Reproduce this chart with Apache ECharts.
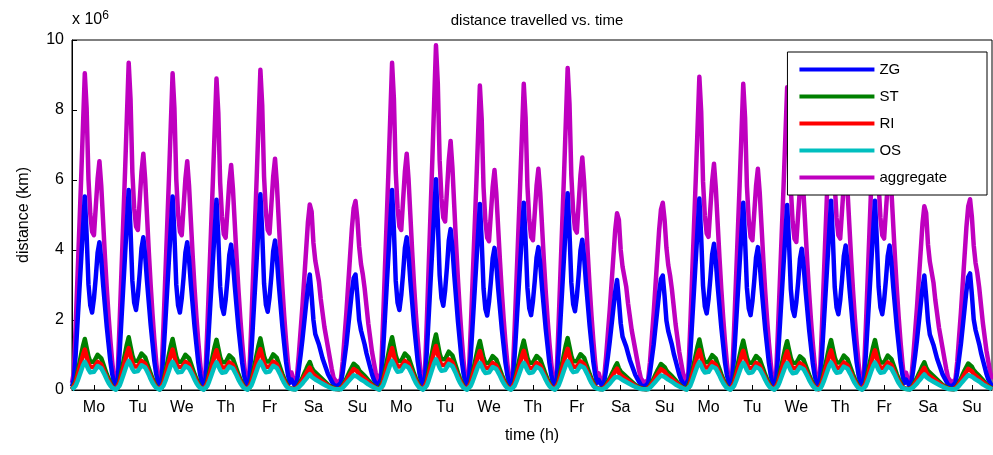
<!DOCTYPE html>
<html><head><meta charset="utf-8">
<script src="https://cdn.jsdelivr.net/npm/echarts@6/dist/echarts.min.js"></script>
<style>html,body{margin:0;background:#fff}#main{width:993px;height:455px}</style>
</head><body><div id="main"></div>
<script>
// hourly day profiles (units of 1e6 km)
var dayNames = ['Mo','Tu','We','Th','Fr','Sa','Su','Mo','Tu','We','Th','Fr','Sa','Su','Mo','Tu','We','Th','Fr','Sa','Su'];
// peak of the aggregate curve for each day
var dayPeaks = [9.2,9.5,9.2,9.05,9.3,5.45,5.55,9.5,10.0,8.85,8.9,9.35,5.2,5.5,9.1,8.9,8.8,9.0,9.0,5.4,5.6];

var aggWd = [0.2,0.5,1.8,3.2,4.6,6.0,7.5,9.0,8.0,6.0,5.0,4.5,4.4,5.2,6.0,6.5,5.8,4.8,3.8,2.9,2.1,1.4,0.8,0.3];
var zgWd  = [0.1,0.3,1.0,1.9,2.8,3.7,4.6,5.5,4.4,3.0,2.4,2.2,2.6,3.2,3.9,4.2,3.7,3.0,2.4,1.8,1.3,0.8,0.45,0.2];
var stWd  = [0.02,0.06,0.25,0.5,0.75,1.0,1.25,1.45,1.2,0.95,0.8,0.75,0.8,0.9,1.0,1.02,0.9,0.75,0.6,0.45,0.32,0.2,0.1,0.04];
var riWd  = [0.02,0.05,0.2,0.4,0.6,0.8,1.0,1.15,0.95,0.75,0.65,0.6,0.65,0.72,0.8,0.82,0.72,0.6,0.48,0.36,0.25,0.16,0.08,0.03];
var osWd  = [0.01,0.03,0.12,0.25,0.4,0.55,0.7,0.8,0.7,0.58,0.5,0.48,0.52,0.6,0.68,0.7,0.62,0.52,0.42,0.3,0.2,0.12,0.06,0.02];

var aggSa = [0.5,0.3,0.2,0.4,1.0,1.7,2.4,3.2,4.0,4.8,5.3,5.1,4.2,3.7,3.4,3.1,2.6,2.2,1.8,1.5,1.2,0.9,0.6,0.35];
var zgSa  = [0.3,0.2,0.1,0.25,0.6,1.0,1.45,1.95,2.45,2.95,3.3,2.7,2.0,1.6,1.45,1.3,1.1,0.9,0.75,0.6,0.45,0.35,0.25,0.15];
var stSa  = [0.05,0.03,0.02,0.05,0.15,0.25,0.35,0.47,0.58,0.7,0.8,0.65,0.55,0.5,0.45,0.4,0.35,0.3,0.25,0.2,0.15,0.11,0.08,0.05];
var riSa  = [0.04,0.02,0.02,0.04,0.12,0.2,0.28,0.38,0.47,0.56,0.64,0.52,0.44,0.4,0.36,0.32,0.28,0.24,0.2,0.16,0.12,0.09,0.06,0.04];
var osSa  = [0.03,0.02,0.01,0.03,0.08,0.13,0.19,0.26,0.32,0.39,0.45,0.38,0.33,0.3,0.27,0.24,0.21,0.18,0.15,0.12,0.09,0.07,0.05,0.03];

var aggSu = [0.35,0.2,0.15,0.3,0.8,1.5,2.2,3.0,3.8,4.6,5.2,5.4,4.9,4.1,3.6,3.3,2.9,2.4,1.9,1.5,1.1,0.8,0.5,0.3];
var zgSu  = [0.15,0.1,0.08,0.2,0.5,0.9,1.3,1.8,2.3,2.8,3.2,3.3,2.7,2.0,1.7,1.5,1.3,1.05,0.85,0.65,0.45,0.3,0.2,0.1];
var stSu  = [0.04,0.03,0.02,0.04,0.12,0.22,0.32,0.44,0.55,0.65,0.75,0.8,0.66,0.56,0.5,0.45,0.4,0.34,0.28,0.22,0.16,0.11,0.07,0.04];
var riSu  = [0.03,0.02,0.02,0.03,0.1,0.18,0.26,0.35,0.44,0.52,0.6,0.64,0.53,0.45,0.4,0.36,0.32,0.27,0.22,0.18,0.13,0.09,0.06,0.03];
var osSu  = [0.02,0.02,0.01,0.02,0.07,0.12,0.18,0.24,0.3,0.36,0.42,0.45,0.38,0.33,0.3,0.27,0.24,0.2,0.16,0.13,0.1,0.07,0.05,0.02];

var profiles = {
  ZG: {wd: zgWd, sa: zgSa, su: zgSu},
  ST: {wd: stWd, sa: stSa, su: stSu},
  RI: {wd: riWd, sa: riSa, su: riSu},
  OS: {wd: osWd, sa: osSa, su: osSu},
  aggregate: {wd: aggWd, sa: aggSa, su: aggSu}
};
var colors = {ZG:'#0000ff', ST:'#008000', RI:'#ff0000', OS:'#00bfbf', aggregate:'#bf00bf'};

function build(name) {
  var out = [];
  dayNames.forEach(function (d, i) {
    var t = d === 'Sa' ? 'sa' : d === 'Su' ? 'su' : 'wd';
    var base = t === 'wd' ? 9.0 : (t === 'sa' ? 5.3 : 5.4);
    var k = (dayPeaks[i] - 0.15) / base;
    profiles[name][t].forEach(function (v) { out.push(+(v * k).toFixed(3)); });
  });
  return out;
}

var hours = [];
for (var h = 0; h < dayNames.length * 24; h++) hours.push(h);

var names = ['ZG','ST','RI','OS','aggregate'];
var myChart = echarts.init(document.getElementById('main'));
myChart.setOption({
  animation: false,
  title: {text: 'distance travelled vs. time', left: 532, top: 8, textAlign: 'center',
    textStyle: {fontSize: 15, fontWeight: 'normal', color: '#000', fontFamily: 'Arial'}},
  legend: {
    data: names, orient: 'vertical', right: 6, top: 52, itemWidth: 75, itemHeight: 4, itemGap: 12,
    backgroundColor: '#fff', borderColor: '#000', borderWidth: 1, padding: [10, 40, 10, 12],
    textStyle: {fontSize: 15, color: '#000', fontFamily: 'Arial'},
    icon: 'rect'
  },
  grid: {left: 72, right: 1, top: 40, bottom: 65},
  xAxis: {
    type: 'category', data: hours, boundaryGap: false,
    name: 'time (h)', nameLocation: 'middle', nameGap: 38,
    nameTextStyle: {fontSize: 16, color: '#000', fontFamily: 'Arial'},
    axisLine: {lineStyle: {color: '#000'}},
    axisTick: {inside: true, length: 5, interval: function (i) { return i % 24 === 12; }, lineStyle: {color: '#000'}},
    axisLabel: {interval: function (i) { return i % 24 === 12; },
      formatter: function (v) { return dayNames[Math.floor(v / 24)]; },
      fontSize: 16, color: '#000', fontFamily: 'Arial', margin: 10},
    splitLine: {show: false}
  },
  yAxis: {
    type: 'value', min: 0, max: 10, interval: 2,
    name: 'distance (km)', nameLocation: 'middle', nameGap: 40,
    nameTextStyle: {fontSize: 16, color: '#000', fontFamily: 'Arial'},
    axisLine: {show: true, lineStyle: {color: '#000'}},
    axisTick: {show: true, inside: true, length: 5, lineStyle: {color: '#000'}},
    axisLabel: {fontSize: 16, color: '#000', fontFamily: 'Arial'},
    splitLine: {show: false}
  },
  graphic: [
    {type: 'rect', shape: {x: 72, y: 40, width: 920, height: 350}, style: {fill: 'none', stroke: '#000', lineWidth: 1}, silent: true},
    {type: 'text', left: 72, top: 10, style: {text: 'x 10{s|6}', rich: {s: {fontSize: 12, verticalAlign: 'top', padding: [0,0,8,0]}}, fontSize: 16, fill: '#000', fontFamily: 'Arial'}}
  ],
  series: names.map(function (n) {
    return {name: n, type: 'line', data: build(n), showSymbol: false, symbol: 'none',
      lineStyle: {width: 4.5, color: colors[n], join: 'round'}, itemStyle: {color: colors[n]}, z: n === 'aggregate' ? 1 : 2};
  })
});
</script></body></html>
